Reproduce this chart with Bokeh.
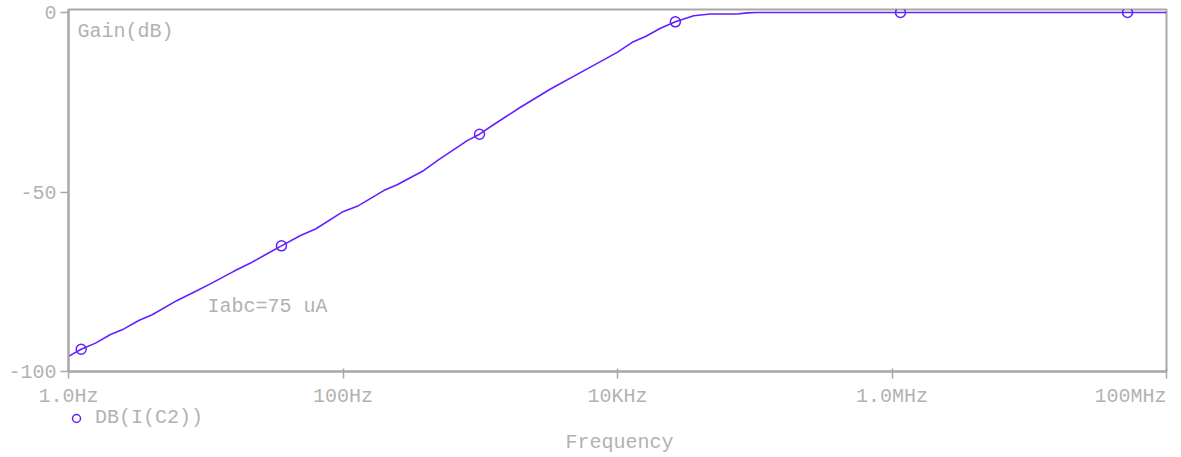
from bokeh.plotting import figure
from bokeh.layouts import column
from bokeh.models import Range1d, FixedTicker, Label, Legend, LegendItem, ColumnDataSource
from bokeh.core.properties import value
from bokeh.embed import file_html
from bokeh.resources import INLINE

# ---- data ----
freq_hz = [1.0, 1.237, 1.573, 2.023, 2.46, 3.25, 4.07, 6.19, 8.18, 10.8, 16.0, 21.2, 28.0,
           35.6, 49.0, 63.1, 98.7, 127, 198, 248, 388, 499, 804, 988, 1256, 1963, 3250,
           6015, 9950, 12800, 16000, 20560, 26400, 35900, 47600, 74400, 88100, 104000,
           1.0e6, 1.0e7, 1.0e8]
gain_db = [-95.8, -93.8, -92.1, -89.7, -88.4, -85.8, -84.2, -80.2, -77.9, -75.6, -72.1, -69.8,
           -67.2, -65.0, -62.1, -60.3, -55.6, -54.0, -49.6, -48.0, -44.0, -41.0, -35.7, -33.9,
           -31.2, -26.4, -21.3, -15.7, -11.1, -8.3, -6.7, -4.4, -2.6, -0.9, -0.4, -0.4, -0.1,
           0.0, 0.0, 0.0, 0.0]
marker_freq = [1.237, 35.6, 988, 26400, 1.153e6, 5.2e7]
marker_db = [-93.8, -65.0, -33.9, -2.6, 0.0, 0.0]

x_ticks = [1, 100, 10000, 1000000, 100000000]
x_tick_labels = ["1.0Hz", "100Hz", "10KHz", "1.0MHz", "100MHz"]
y_ticks = [-100, -50, 0]
y_tick_labels = ["-100", "-50", "0"]
series_name = "DB(I(C2))"
x_title = "Frequency"
y_title = "Gain(dB)"
note = "Iabc=75 uA"

FONT = "Liberation Mono"
GRAY = "#b2b2b2"
AXC = "#a8a8a8"
CURVE = "#6420ff"
FS = "20px"

# layout (pixels)
W = 1178
LEFT, RIGHT, TOP, FRAME_H, BOT = 68, 12, 9, 362, 12
PX_PER_DEC = (W - LEFT - RIGHT) / 8.0
H1 = TOP + FRAME_H + BOT
H2 = 456 - H1
OFF = 30  # offset of the strip's pixel coordinate system

# ---------------- main plot ----------------
p = figure(width=W, height=H1, x_axis_type="log",
           x_range=Range1d(1, 1e8), y_range=Range1d(-100, 100 * 3 / 359),
           output_backend="svg", toolbar_location=None,
           min_border_left=LEFT, min_border_right=RIGHT, min_border_top=TOP,
           min_border_bottom=BOT)
p.background_fill_color = "white"
p.border_fill_color = "white"
p.outline_line_color = AXC
p.outline_line_width = 2
p.xgrid.visible = False
p.ygrid.visible = False

p.line(freq_hz, gain_db, line_color=CURVE, line_width=1.6)
p.scatter(marker_freq, marker_db, marker="circle", size=10, fill_color=None,
          line_color=CURVE, line_width=1.5)

xa = p.xaxis[0]
xa.ticker = FixedTicker(ticks=x_ticks, minor_ticks=[])
xa.major_label_overrides = {t: "" for t in x_ticks}
xa.major_label_text_font_size = "1px"
xa.major_label_standoff = 0
xa.axis_line_color = AXC
xa.axis_line_width = 2
xa.major_tick_line_color = AXC
xa.major_tick_line_width = 1.5
xa.major_tick_in = 3
xa.major_tick_out = 7
xa.minor_tick_line_color = None

ya = p.yaxis[0]
ya.ticker = FixedTicker(ticks=y_ticks, minor_ticks=[])
ya.major_label_overrides = {t: l for t, l in zip(y_ticks, y_tick_labels)}
ya.axis_line_color = AXC
ya.axis_line_width = 2
ya.major_tick_line_color = AXC
ya.major_tick_line_width = 1.5
ya.major_tick_in = 0
ya.major_tick_out = 8
ya.minor_tick_line_color = None
ya.major_label_text_font = FONT
ya.major_label_text_font_size = FS
ya.major_label_text_color = GRAY
ya.major_label_standoff = 4

p.add_layout(Label(x=1, y=-5.3, x_offset=9, text=y_title, text_align="left",
                   text_baseline="middle", text_font=FONT, text_font_size=FS, text_color=GRAY))
p.add_layout(Label(x=10.3, y=-81.9, text=note, text_align="left",
                   text_baseline="middle", text_font=FONT, text_font_size=FS, text_color=GRAY))

# ---------------- strip below: tick labels, legend, axis title ----------------
lo = 10 ** (-LEFT / PX_PER_DEC)
hi = 10 ** (8 + RIGHT / PX_PER_DEC)
p2 = figure(width=W, height=H2, x_axis_type="log", x_range=Range1d(lo, hi),
            y_range=Range1d(H2 + OFF, OFF), output_backend="svg", toolbar_location=None,
            min_border=0, min_border_left=0, min_border_right=0,
            min_border_top=0, min_border_bottom=0)
p2.frame_align = False
p2.axis.visible = False
p2.grid.visible = False
p2.outline_line_color = None
p2.background_fill_color = "white"
p2.border_fill_color = "white"

aligns = ["center"] * (len(x_ticks) - 1) + ["right"]
src = ColumnDataSource(dict(x=x_ticks, y=[395.5 - H1 + OFF] * len(x_ticks),
                            t=x_tick_labels, a=aligns))
p2.text(x="x", y="y", text="t", source=src, text_align="a", text_baseline="middle",
        text_font=value(FONT), text_font_size=value(FS), text_color=GRAY)

# proxy renderer for the legend (its values fall outside this strip's range, so unseen)
leg_r = p2.scatter(marker_freq, marker_db, marker="circle", size=10, fill_color=None,
                   line_color=CURVE, line_width=1.5)
legend = Legend(items=[LegendItem(label=series_name, renderers=[leg_r])],
                location=(66, H2 - (429 - H1)), padding=0, margin=0, spacing=0,
                border_line_color=None, background_fill_alpha=0,
                label_text_font=FONT, label_text_font_size=FS, label_text_color=GRAY,
                glyph_width=20, glyph_height=20, label_standoff=9, label_height=20)
p2.add_layout(legend)

p2.add_layout(Label(x=1e4, y=442 - H1 + OFF, x_offset=2, text=x_title, text_align="center",
                    text_baseline="middle", text_font=FONT, text_font_size=FS,
                    text_color=GRAY))

open("out.html", "w").write(file_html(column(p, p2, spacing=0), INLINE))
